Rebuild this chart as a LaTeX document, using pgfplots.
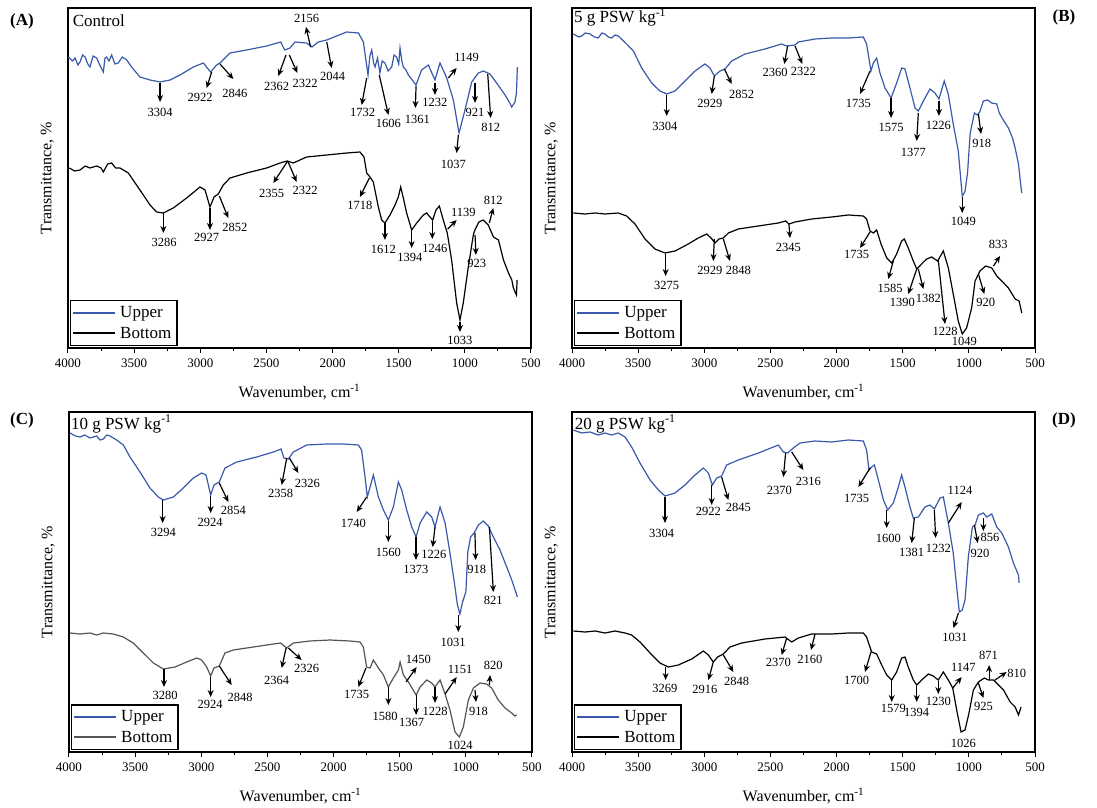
\documentclass[border=0pt]{standalone}
\usepackage{fontspec}
\setmainfont{Liberation Serif}
\usepackage{pgfplots}
\pgfplotsset{compat=1.18}
\usetikzlibrary{arrows.meta}

\definecolor{upc}{RGB}{59,89,170}
\definecolor{botgray}{RGB}{85,85,85}

\tikzset{
  pkarrow/.style={-{Stealth[length=7pt,width=6pt]}, line width=1.2pt, black},
  pklbl/.style={font=\fontsize{12.5}{13}\selectfont, inner sep=0pt},
}
% arrow from peak (#1,#2) to (#3,#4), label #7 centred at (#5,#6)
\newcommand\pk[7]{\draw[pkarrow] (axis cs:#1,#2) -- (axis cs:#3,#4); \node[pklbl] at (axis cs:#5,#6) {#7};}

\pgfplotsset{ftir/.style={
  width=463pt, height=340pt, scale only axis, clip=false,
  xmin=500, xmax=4000, ymin=0, ymax=340, x dir=reverse,
  xtick={500,1000,...,4000}, minor x tick num=1, ytick=\empty,
  xtick pos=bottom, tick align=outside,
  major tick length=5pt, minor tick length=3pt,
  every tick/.style={black, line width=1pt},
  axis line style={line width=1.8pt},
  xticklabel style={font=\fontsize{13}{13}\selectfont, yshift=-2pt},
  /pgf/number format/assume math mode=true,
  /pgf/number format/1000 sep={},
  xlabel={Wavenumber, cm\textsuperscript{-1}},
  ylabel={Transmittance, \%},
  label style={font=\fontsize{16}{16}\selectfont},
  xlabel style={at={(axis description cs:0.5,-0.13)}, anchor=center},
  ylabel style={at={(axis description cs:-0.045,0.5)}, anchor=center},
  legend style={at={(axis description cs:0.004,0.006)}, anchor=south west,
    draw=black, very thick, fill=white, inner sep=2pt,
    font=\fontsize{17}{18}\selectfont,
    nodes={inner sep=3.8pt}},
  legend cell align=left,
  legend image code/.code={\draw[#1, line width=2pt] (0pt,0pt) -- (42pt,0pt);},
}}

\begin{document}
\begin{tikzpicture}
\path[use as bounding box] (0,0) rectangle (1097pt,807pt);

% ---------------- (A) Control
\begin{axis}[ftir, at={(68pt,459pt)}, anchor=south west]
\addplot[upc, line width=1.2pt] coordinates {
(3997,291)(3965,287)(3947,290)(3925,283)(3909,286)(3890,293)(3871,291)(3850,284)(3834,281)(3810,292)(3783,290)(3760,283)(3733,276)(3720,290)(3708,291)(3690,287)(3670,293)(3645,284)(3620,285)(3590,291)(3556,288)(3519,281)(3456,271)(3380,268)(3304,266)(3229,268)(3153,273)(3052,281)(2977,285)(2922,276)(2876,283)(2851,285)(2775,295)(2649,298)(2498,302)(2392,306)(2362,298)(2322,300)(2284,306)(2196,305)(2156,301)(2108,306)(2044,308)(1969,312)(1893,316)(1805,315)(1767,306)(1732,273)(1718,292)(1704,298)(1690,285)(1679,281)(1660,290)(1642,275)(1625,287)(1604,285)(1580,277)(1553,281)(1535,293)(1516,291)(1500,284)(1490,300)(1475,286)(1465,281)(1445,278)(1427,273)(1369,263)(1327,278)(1276,283)(1226,268)(1188,285)(1137,270)(1087,248)(1044,215)(999,238)(948,266)(898,275)(860,277)(810,274)(760,265)(696,253)(660,245)(646,241)(621,246)(610,255)(603,281)};
\addlegendentry{Upper}
\addplot[black, line width=1.2pt] coordinates {
(3990,180)(3950,177)(3909,178)(3870,182)(3834,180)(3783,182)(3750,180)(3733,176)(3700,184)(3670,185)(3640,180)(3607,180)(3544,175)(3456,158)(3380,143)(3330,136)(3279,135)(3204,140)(3103,150)(3002,161)(2964,158)(2927,141)(2896,151)(2864,154)(2826,163)(2775,170)(2649,175)(2498,180)(2397,185)(2342,187)(2297,185)(2196,191)(2044,193)(1893,195)(1793,196)(1762,191)(1742,175)(1717,171)(1692,166)(1654,141)(1629,128)(1604,125)(1566,133)(1528,143)(1503,151)(1485,161)(1465,150)(1440,135)(1402,118)(1364,125)(1314,133)(1289,135)(1264,131)(1243,128)(1218,138)(1193,142)(1163,128)(1133,115)(1100,88)(1062,45)(1037,28)(1012,45)(974,81)(936,113)(924,118)(894,126)(861,128)(823,123)(784,111)(746,108)(708,88)(670,75)(645,68)(633,60)(610,53)(605,68)};
\addlegendentry{Bottom}
\node[anchor=west, font=\fontsize{17}{17}\selectfont, inner sep=0pt] at (axis description cs:0.01,0.962) {Control};
\pk{3304}{265}{3304}{246}{3304}{236}{3304}
\pk{2914}{276}{2952}{260}{3002}{251}{2922}
\pk{2851}{284}{2750}{269}{2738}{255}{2846}
\pk{2352}{293}{2410}{272}{2423}{262}{2362}
\pk{2327}{293}{2266}{275}{2208}{265}{2322}
\pk{2166}{301}{2201}{321}{2196}{330}{2156}
\pk{2044}{306}{2007}{280}{1999}{272}{2044}
\pk{1742}{270}{1780}{243}{1772}{236}{1732}
\pk{1647}{273}{1578}{233}{1578}{225}{1606}
\pk{1369}{262}{1374}{240}{1359}{229}{1361}
\pk{1226}{265}{1226}{253}{1226}{246}{1232}
\pk{1125}{270}{1062}{280}{986}{291}{1149}
\pk{1049}{213}{1062}{195}{1087}{184}{1037}
\pk{923}{265}{923}{245}{923}{236}{921}
\pk{827}{274}{805}{230}{805}{221}{812}
\pk{3279}{135}{3279}{115}{3274}{106}{3286}
\pk{2927}{140}{2927}{118}{2952}{111}{2927}
\pk{2856}{152}{2788}{130}{2738}{121}{2852}
\pk{2339}{187}{2448}{165}{2460}{155}{2355}
\pk{2339}{187}{2271}{166}{2208}{158}{2322}
\pk{1722}{170}{1793}{151}{1793}{143}{1718}
\pk{1604}{125}{1604}{108}{1616}{99}{1612}
\pk{1402}{118}{1402}{100}{1415}{91}{1394}
\pk{1246}{127}{1246}{109}{1226}{100}{1246}
\pk{1130}{119}{1062}{128}{1011}{136}{1139}
\pk{1037}{26}{1037}{16}{1037}{8}{1033}
\pk{923}{113}{916}{93}{911}{85}{923}
\pk{815}{125}{785}{140}{785}{148}{812}
\end{axis}

% ---------------- (B) 5 g
\begin{axis}[ftir, at={(572pt,459pt)}, anchor=south west]
\addplot[upc, line width=1.2pt] coordinates {
(3990,314)(3950,311)(3927,312)(3900,315)(3864,314)(3830,311)(3801,310)(3775,315)(3751,314)(3725,311)(3700,310)(3675,313)(3650,312)(3587,304)(3536,297)(3473,280)(3398,265)(3335,257)(3284,254)(3221,257)(3146,267)(3070,277)(2995,284)(2957,280)(2924,272)(2881,277)(2843,279)(2793,287)(2692,294)(2541,299)(2415,304)(2377,302)(2314,303)(2289,306)(2163,309)(2037,310)(1911,310)(1798,311)(1773,304)(1740,277)(1722,285)(1697,290)(1672,275)(1634,260)(1588,250)(1546,265)(1508,280)(1483,279)(1445,260)(1407,240)(1382,237)(1344,247)(1294,259)(1256,255)(1226,249)(1186,267)(1156,254)(1118,224)(1080,197)(1050,152)(1030,156)(1010,175)(990,215)(958,235)(935,233)(918,236)(890,247)(860,248)(827,245)(789,244)(770,235)(740,228)(701,220)(670,210)(650,200)(625,184)(605,160)(600,155)};
\addlegendentry{Upper}
\addplot[black, line width=1.2pt] coordinates {
(3990,135)(3902,134)(3826,135)(3751,134)(3650,135)(3587,132)(3524,124)(3448,109)(3373,99)(3297,95)(3221,97)(3121,104)(3045,110)(2982,114)(2949,110)(2919,105)(2889,109)(2856,110)(2818,115)(2743,119)(2591,122)(2440,125)(2385,127)(2360,124)(2314,126)(2188,129)(2037,131)(1911,133)(1798,132)(1773,129)(1747,117)(1722,115)(1697,118)(1664,104)(1621,90)(1583,85)(1546,94)(1508,107)(1488,109)(1458,100)(1420,87)(1394,79)(1357,84)(1319,89)(1281,91)(1236,87)(1193,97)(1155,80)(1118,54)(1080,27)(1050,14)(1017,20)(979,40)(953,67)(916,77)(873,82)(827,80)(789,72)(751,67)(701,60)(650,49)(620,47)(600,35)};
\addlegendentry{Bottom}
\node[anchor=west, font=\fontsize{17}{17}\selectfont, inner sep=0pt] at (axis description cs:0.004,0.972) {5 g PSW kg\textsuperscript{-1}};
\pk{3284}{253}{3284}{232}{3297}{222}{3304}
\pk{2924}{272}{2944}{254}{2957}{245}{2929}
\pk{2848}{279}{2793}{264}{2717}{254}{2852}
\pk{2370}{302}{2395}{284}{2465}{276}{2360}
\pk{2314}{302}{2259}{284}{2251}{277}{2322}
\pk{1747}{277}{1823}{254}{1835}{245}{1735}
\pk{1588}{250}{1588}{230}{1588}{221}{1575}
\pk{1382}{235}{1394}{207}{1420}{196}{1377}
\pk{1226}{247}{1226}{232}{1231}{223}{1226}
\pk{928}{234}{908}{214}{903}{205}{918}
\pk{1050}{151}{1050}{135}{1042}{127}{1049}
\pk{3292}{94}{3292}{72}{3284}{63}{3275}
\pk{2924}{109}{2932}{87}{2957}{78}{2929}
\pk{2856}{109}{2806}{87}{2743}{78}{2848}
\pk{2360}{124}{2352}{110}{2365}{101}{2345}
\pk{1747}{116}{1823}{100}{1848}{94}{1735}
\pk{1571}{87}{1609}{69}{1596}{60}{1585}
\pk{1394}{79}{1458}{54}{1503}{46}{1390}
\pk{1382}{79}{1344}{59}{1306}{50}{1382}
\pk{1231}{88}{1180}{24}{1180}{17}{1228}
\node[pklbl] at (axis cs:1034,7) {1049};
\pk{928}{74}{883}{54}{873}{46}{920}
\pk{814}{82}{764}{92}{777}{104}{833}
\end{axis}

% ---------------- (C) 10 g
\begin{axis}[ftir, at={(69pt,55pt)}, anchor=south west]
\addplot[upc, line width=1.2pt] coordinates {
(3992,319)(3950,316)(3917,315)(3880,317)(3841,314)(3791,316)(3765,312)(3740,313)(3715,317)(3690,316)(3640,312)(3589,307)(3539,295)(3463,280)(3388,264)(3325,255)(3287,252)(3211,255)(3136,264)(3060,274)(2997,279)(2964,277)(2929,257)(2904,267)(2864,270)(2821,284)(2732,290)(2581,295)(2455,300)(2397,303)(2375,294)(2342,293)(2304,300)(2203,307)(2052,308)(1926,308)(1813,307)(1788,302)(1762,275)(1745,255)(1724,265)(1699,277)(1661,255)(1623,242)(1586,232)(1548,245)(1510,270)(1485,262)(1447,242)(1409,225)(1376,215)(1346,229)(1296,240)(1258,235)(1233,225)(1195,245)(1157,229)(1120,199)(1082,165)(1065,148)(1045,138)(1025,150)(1000,160)(985,200)(964,215)(938,219)(905,227)(868,231)(830,226)(792,215)(742,202)(691,185)(653,172)(620,159)(610,155)};
\addlegendentry{Upper}
\addplot[botgray, line width=1.2pt] coordinates {
(3992,119)(3917,118)(3841,119)(3791,117)(3740,119)(3665,118)(3589,115)(3514,109)(3438,99)(3362,89)(3287,83)(3199,85)(3110,90)(3035,94)(2997,92)(2959,85)(2929,76)(2904,84)(2864,86)(2821,99)(2758,102)(2606,105)(2455,108)(2400,109)(2354,104)(2304,109)(2178,111)(2027,112)(1876,111)(1800,110)(1775,105)(1750,85)(1724,84)(1699,92)(1661,84)(1623,77)(1586,65)(1548,74)(1510,82)(1497,90)(1472,77)(1434,70)(1376,57)(1346,65)(1296,72)(1258,69)(1233,65)(1195,72)(1157,58)(1120,42)(1082,20)(1049,15)(1019,25)(981,52)(943,64)(893,69)(843,68)(805,64)(755,52)(704,44)(653,39)(630,36)(615,37)};
\addlegendentry{Bottom}
\node[anchor=west, font=\fontsize{17}{17}\selectfont, inner sep=0pt] at (axis description cs:0.004,0.965) {10 g PSW kg\textsuperscript{-1}};
\pk{3292}{252}{3292}{229}{3287}{220}{3294}
\pk{2929}{256}{2929}{239}{2934}{230}{2924}
\pk{2864}{269}{2795}{250}{2758}{242}{2854}
\pk{2354}{294}{2392}{267}{2400}{259}{2358}
\pk{2334}{294}{2266}{279}{2198}{269}{2326}
\pk{1750}{255}{1825}{240}{1850}{229}{1740}
\pk{1586}{231}{1586}{210}{1586}{200}{1560}
\pk{1377}{215}{1377}{192}{1377}{183}{1373}
\pk{1233}{225}{1251}{205}{1241}{198}{1226}
\pk{931}{219}{926}{192}{918}{183}{918}
\pk{822}{225}{792}{160}{792}{152}{821}
\pk{1057}{137}{1057}{120}{1097}{110}{1031}
\pk{3282}{83}{3282}{65}{3274}{57}{3280}
\pk{2929}{75}{2929}{55}{2934}{48}{2924}
\pk{2864}{86}{2770}{67}{2707}{55}{2848}
\pk{2359}{104}{2392}{84}{2430}{72}{2364}
\pk{2342}{104}{2241}{92}{2203}{84}{2326}
\pk{1755}{84}{1813}{65}{1825}{58}{1735}
\pk{1586}{65}{1586}{47}{1611}{36}{1580}
\pk{1452}{70}{1372}{85}{1359}{93}{1450}
\pk{1376}{57}{1376}{37}{1409}{30}{1367}
\pk{1233}{65}{1233}{49}{1233}{41}{1228}
\pk{1157}{58}{1069}{75}{1044}{83}{1151}
\node[pklbl] at (axis cs:1044,7) {1024};
\pk{931}{62}{923}{50}{905}{41}{918}
\pk{822}{67}{817}{77}{792}{87}{820}
\end{axis}

% ---------------- (D) 20 g
\begin{axis}[ftir, at={(572pt,55pt)}, anchor=south west]
\addplot[upc, line width=1.2pt] coordinates {
(3990,322)(3927,319)(3864,320)(3801,317)(3751,319)(3700,317)(3650,319)(3599,315)(3549,305)(3486,289)(3410,272)(3347,262)(3297,256)(3221,259)(3146,267)(3070,277)(3007,284)(2969,279)(2939,267)(2906,274)(2869,276)(2831,287)(2743,292)(2591,299)(2440,307)(2402,300)(2370,299)(2327,304)(2276,309)(2163,311)(2037,310)(1911,312)(1798,311)(1773,302)(1755,282)(1735,285)(1714,287)(1684,272)(1646,252)(1613,242)(1571,249)(1533,265)(1508,277)(1483,265)(1445,245)(1420,234)(1382,235)(1332,245)(1294,247)(1261,243)(1218,254)(1193,255)(1155,229)(1118,199)(1092,165)(1072,140)(1050,142)(1029,152)(1004,195)(973,225)(953,227)(928,237)(890,239)(865,235)(827,238)(789,225)(751,219)(701,205)(663,189)(625,177)(620,169)};
\addlegendentry{Upper}
\addplot[black, line width=1.2pt] coordinates {
(3990,121)(3902,120)(3826,121)(3751,119)(3675,121)(3599,119)(3549,117)(3486,110)(3410,99)(3335,89)(3272,85)(3196,87)(3095,93)(3007,101)(2969,97)(2932,90)(2899,95)(2856,98)(2806,105)(2717,109)(2541,113)(2390,115)(2339,110)(2289,114)(2188,118)(2037,118)(1911,119)(1798,119)(1773,115)(1735,100)(1697,98)(1659,87)(1621,77)(1583,72)(1546,80)(1508,94)(1483,95)(1458,85)(1420,72)(1394,67)(1357,72)(1306,78)(1269,76)(1231,72)(1193,80)(1155,72)(1122,64)(1092,42)(1059,20)(1029,22)(999,39)(966,62)(928,70)(883,74)(852,72)(814,72)(776,67)(738,62)(688,50)(650,45)(625,37)(605,45)};
\addlegendentry{Bottom}
\node[anchor=west, font=\fontsize{17}{17}\selectfont, inner sep=0pt] at (axis description cs:0.006,0.965) {20 g PSW kg\textsuperscript{-1}};
\pk{3297}{255}{3297}{229}{3322}{219}{3304}
\pk{2944}{267}{2944}{247}{2969}{241}{2922}
\pk{2869}{275}{2818}{252}{2743}{245}{2845}
\pk{2385}{299}{2402}{275}{2433}{262}{2370}
\pk{2339}{300}{2251}{282}{2213}{271}{2316}
\pk{1747}{284}{1835}{265}{1848}{254}{1735}
\pk{1621}{242}{1621}{224}{1609}{214}{1600}
\pk{1412}{234}{1432}{209}{1432}{200}{1381}
\pk{1261}{242}{1251}{214}{1231}{204}{1232}
\pk{1155}{229}{1054}{250}{1067}{262}{1124}
\pk{958}{227}{933}{209}{916}{199}{920}
\pk{890}{234}{890}{221}{840}{215}{856}
\pk{1079}{139}{1117}{124}{1105}{115}{1031}
\pk{3292}{85}{3292}{72}{3297}{64}{3269}
\pk{2932}{90}{2969}{72}{2995}{63}{2916}
\pk{2856}{97}{2780}{80}{2755}{71}{2848}
\pk{2377}{114}{2415}{97}{2440}{90}{2370}
\pk{2163}{118}{2193}{102}{2201}{93}{2160}
\pk{1740}{100}{1785}{80}{1848}{72}{1700}
\pk{1583}{72}{1583}{50}{1571}{44}{1579}
\pk{1394}{66}{1394}{50}{1394}{40}{1394}
\pk{1231}{71}{1231}{58}{1231}{51}{1230}
\pk{1122}{64}{1054}{75}{1042}{85}{1147}
\pk{928}{69}{890}{54}{890}{46}{925}
\pk{847}{72}{847}{87}{852}{97}{871}
\pk{802}{72}{714}{80}{638}{79}{810}
\node[pklbl] at (axis cs:1042,9) {1026};
\end{axis}

\node[font=\bfseries\fontsize{17}{17}\selectfont] at (22pt,786pt) {(A)};
\node[font=\bfseries\fontsize{17}{17}\selectfont] at (1064pt,790pt) {(B)};
\node[font=\bfseries\fontsize{17}{17}\selectfont] at (22pt,387pt) {(C)};
\node[font=\bfseries\fontsize{17}{17}\selectfont] at (1064pt,387pt) {(D)};
\end{tikzpicture}
\end{document}
